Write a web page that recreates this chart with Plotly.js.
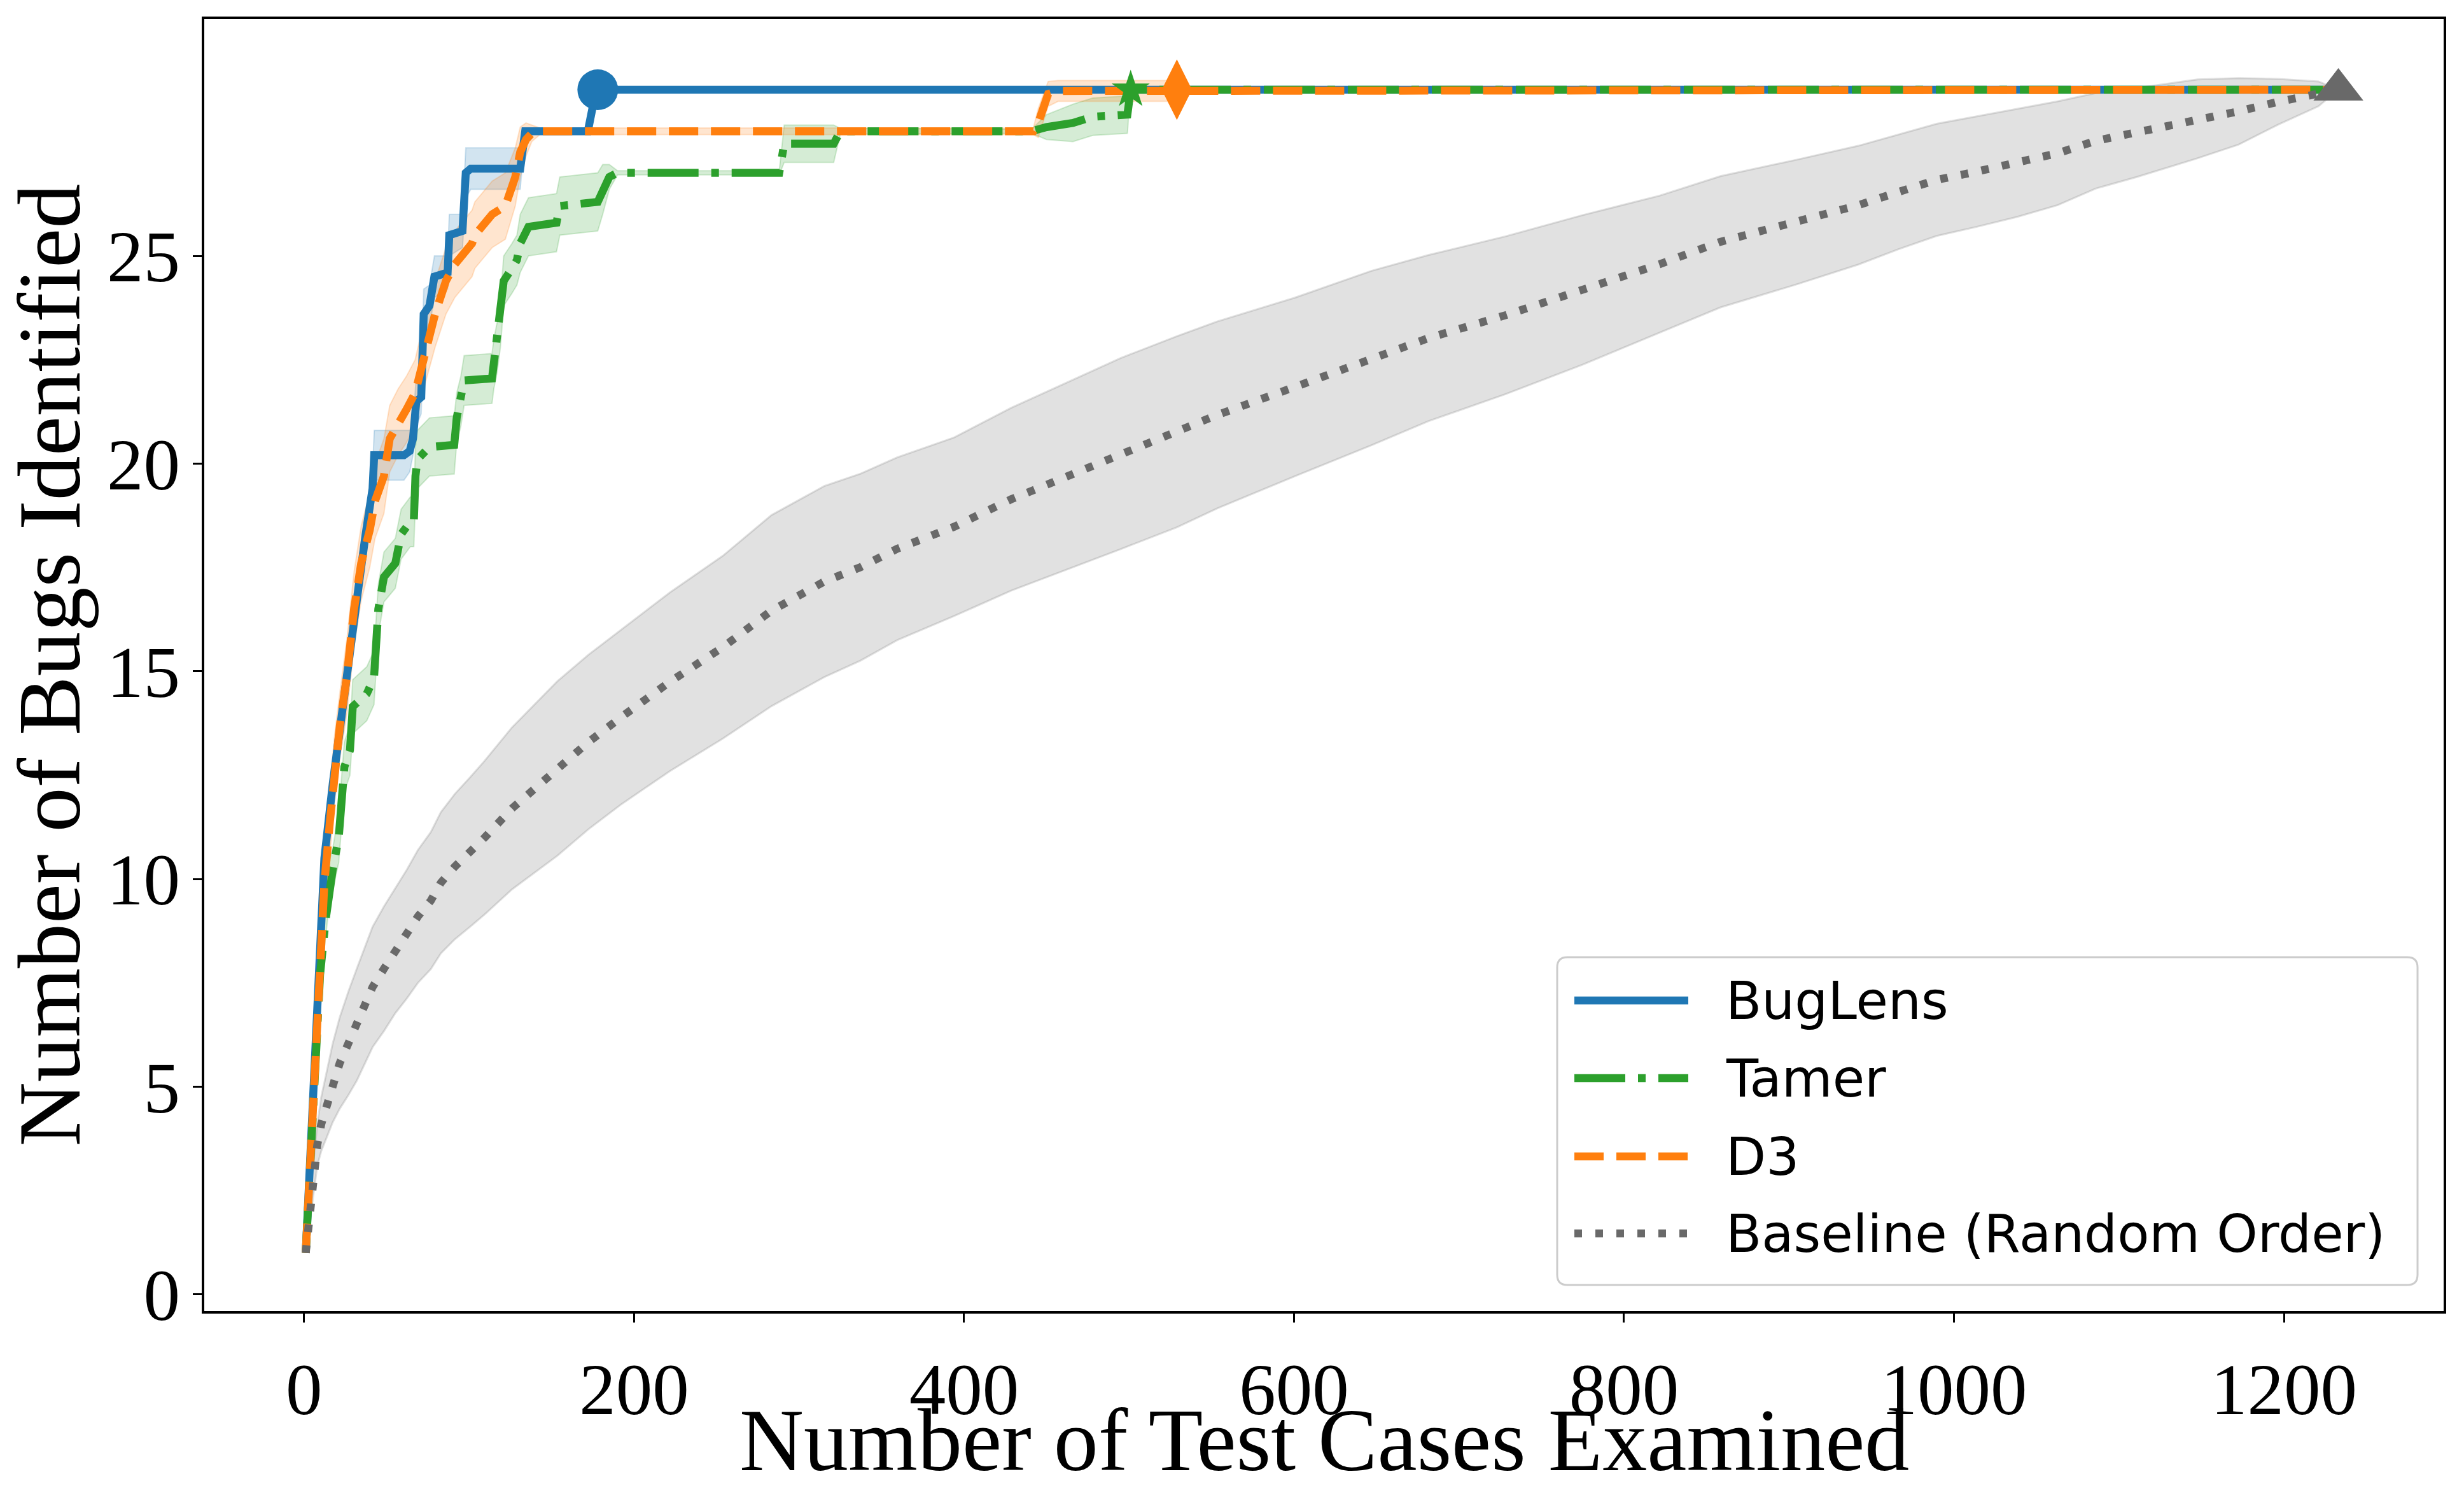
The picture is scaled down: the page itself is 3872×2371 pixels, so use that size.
<!DOCTYPE html>
<html>
<head>
<meta charset="utf-8">
<script src="https://cdn.plot.ly/plotly-3.0.1.min.js"></script>
<style>html,body{margin:0;padding:0;background:#fff;} #chart{width:3872px;height:2371px;}</style>
</head>
<body>
<div id="chart"></div>
<script>
// ---------------- data ----------------
const xTickVals = [0, 200, 400, 600, 800, 1000, 1200];
const yTickVals = [0, 5, 10, 15, 20, 25];
const seriesNames = ['BugLens', 'Tamer', 'D3', 'Baseline (Random Order)'];
const xTitle = 'Number of Test Cases Examined';
const yTitle = 'Number of Bugs Identified';

const bugLensX    = [1, 3, 5.4, 9.7, 12.3, 17.4, 22.6, 27.8, 32.9, 37.3, 41.5, 42.5, 60.5, 64, 66, 68, 71, 72.5, 76, 79, 87, 88, 96, 98, 101, 131, 134, 172, 177, 1233];
const bugLensMean = [1, 2.6, 5.0, 8.1, 10.5, 12.3, 13.8, 15.2, 17.0, 18.3, 19.4, 20.2, 20.2, 20.3, 20.6, 21.5, 21.6, 23.6, 23.8, 24.5, 24.6, 25.5, 25.6, 27.0, 27.1, 27.1, 28.0, 28.0, 29.0, 29.0];
const bugLensStd  = [0, 0.1, 0.2, 0.3, 0.4, 0.4, 0.3, 0.3, 0.3, 0.3, 0.4, 0.6, 0.6, 0.5, 0.4, 0.6, 0.4, 0.6, 0.5, 0.5, 0.4, 0.5, 0.4, 0.6, 0.5, 0.5, 0.05, 0, 0, 0];

const tamerX    = [1, 3, 5.4, 9.7, 13, 15.7, 17.4, 21, 22.6, 24.4, 27.8, 29.5, 38, 42.4, 45, 46.7, 48.4, 55.3, 58.8, 64.4, 66.5, 67.5, 68.7, 76, 91, 92.5, 95, 97, 113.9, 115, 117, 119, 121, 126, 129, 131, 136, 153, 155, 178, 181, 185, 190, 288, 291, 321, 325, 441, 450, 466, 478, 499, 501, 1233];
const tamerMean = [1, 2.5, 4.8, 7.7, 9.0, 10.0, 10.24, 11.0, 11.8, 12.7, 13.1, 14.15, 14.46, 14.85, 16.5, 16.88, 17.27, 17.6, 18.3, 18.6, 18.6, 19.7, 20.1, 20.4, 20.45, 21.1, 21.5, 22.0, 22.05, 22.4, 22.8, 23.4, 24.4, 24.7, 24.9, 25.3, 25.7, 25.8, 26.2, 26.3, 26.6, 26.9, 27.0, 27.0, 27.7, 27.7, 28.0, 28.0, 28.1, 28.2, 28.35, 28.4, 29.0, 29.0];
const tamerStd  = [0, 0.1, 0.2, 0.3, 0.4, 0.5, 0.5, 0.6, 0.6, 0.6, 0.6, 0.65, 0.65, 0.65, 0.6, 0.6, 0.6, 0.6, 0.6, 0.6, 0.6, 0.7, 0.7, 0.7, 0.7, 0.6, 0.6, 0.6, 0.6, 0.6, 0.6, 0.6, 0.6, 0.6, 0.6, 0.7, 0.7, 0.7, 0.7, 0.7, 0.6, 0.3, 0.05, 0.05, 0.45, 0.45, 0.07, 0.05, 0.3, 0.45, 0.45, 0.45, 0, 0];

const d3X    = [1, 3, 5.4, 9.7, 12.3, 15.7, 18.3, 21.7, 26, 30.3, 34.6, 39.8, 43, 48.4, 51.9, 57, 62, 67.3, 72.5, 79.4, 86, 91.4, 101.8, 103.5, 114, 122, 128, 131, 134.5, 138, 143, 442, 445, 451, 457, 528, 530, 1233];
const d3Mean = [1, 2.7, 5.0, 8.0, 9.9, 11.4, 12.6, 13.7, 14.9, 16.5, 17.6, 18.4, 19.1, 19.7, 20.6, 21.0, 21.3, 21.7, 22.6, 23.6, 24.4, 24.8, 25.3, 25.5, 26.0, 26.2, 26.9, 27.5, 27.8, 27.95, 28.0, 28.0, 28.2, 28.9, 28.97, 28.97, 29.0, 29.0];
const d3Std  = [0, 0.1, 0.3, 0.5, 0.6, 0.8, 0.8, 0.8, 0.9, 0.9, 0.9, 0.9, 0.9, 0.9, 0.8, 0.8, 0.8, 0.8, 0.8, 0.8, 0.8, 0.8, 0.8, 0.8, 0.8, 0.8, 0.7, 0.6, 0.4, 0.2, 0.08, 0.08, 0.35, 0.3, 0.25, 0.25, 0, 0];

const baselineX    = [1, 3.7, 8, 10.4, 13.9, 17.4, 21.6, 26.9, 32, 41.5, 48.4, 55.3, 62.2, 69, 76.8, 82.9, 91.4, 100.9, 109.5, 126, 153.5, 172.4, 192.3, 221.8, 253.8, 283.3, 315.3, 337.4, 359.5, 394, 428.5, 460.4, 494.9, 529.2, 553.4, 600.2, 646.9, 681.4, 728.1, 774.8, 821.6, 858.5, 905.2, 942, 966.4, 989.5, 1013.9, 1038.4, 1062.8, 1085.9, 1111, 1147.7, 1172.6, 1196.5, 1220.9, 1233];
const baselineMean = [1.0, 2.1, 3.6, 4.1, 4.6, 5.1, 5.57, 6.05, 6.5, 7.4, 7.84, 8.27, 8.67, 9.1, 9.48, 9.91, 10.3, 10.66, 11.0, 11.7, 12.66, 13.3, 13.9, 14.75, 15.58, 16.46, 17.16, 17.51, 17.95, 18.48, 19.14, 19.67, 20.24, 20.77, 21.17, 21.84, 22.54, 23.02, 23.57, 24.18, 24.8, 25.34, 25.82, 26.22, 26.54, 26.83, 27.03, 27.24, 27.47, 27.77, 27.97, 28.3, 28.48, 28.71, 28.9, 29.0];
const baselineStd  = [0, 0.3, 0.5, 0.65, 0.8, 0.95, 1.1, 1.25, 1.35, 1.45, 1.5, 1.5, 1.55, 1.6, 1.65, 1.7, 1.75, 1.8, 1.85, 1.95, 2.1, 2.1, 2.1, 2.15, 2.2, 2.3, 2.3, 2.25, 2.2, 2.15, 2.2, 2.25, 2.3, 2.3, 2.25, 2.15, 2.1, 2.0, 1.9, 1.8, 1.65, 1.58, 1.5, 1.43, 1.38, 1.35, 1.33, 1.3, 1.25, 1.15, 1.07, 0.95, 0.8, 0.55, 0.3, 0.0];

// points where each method first finds all bugs
const doneX = [178, 501, 529, 1233];
const doneY = [29, 29, 29, 29];

// ---------------- styling ----------------
const colors = ['#1f77b4', '#2ca02c', '#ff7f0e', '#696969'];
const bandColors = ['rgba(31,119,180,0.2)', 'rgba(44,160,44,0.2)', 'rgba(255,127,14,0.2)', 'rgba(105,105,105,0.2)'];
const dashes = ['solid', '80px,20px,12px,20px', '46px,20px', '12px,21px'];
const symbols = ['circle', 'star', 'diamond-tall', 'triangle-up'];
const symbolSizes = [64, 45, 68, 68];
const LW = 12.5;

const seriesX = [bugLensX, tamerX, d3X, baselineX];
const seriesMean = [bugLensMean, tamerMean, d3Mean, baselineMean];
const seriesStd = [bugLensStd, tamerStd, d3Std, baselineStd];

const traces = [];
// shaded bands (drawn beneath all lines)
for (let k = 0; k < 4; k++) {
  const x = seriesX[k], m = seriesMean[k], s = seriesStd[k];
  const up = m.map((v, i) => v + s[i]);
  const lo = m.map((v, i) => v - s[i]);
  traces.push({
    type: 'scatter', mode: 'lines',
    x: x.concat(x.slice().reverse()),
    y: up.concat(lo.slice().reverse()),
    fill: 'toself', fillcolor: bandColors[k],
    line: {color: bandColors[k], width: k === 3 ? 3 : 2},
    hoverinfo: 'skip', showlegend: false
  });
}
// mean lines
for (let k = 0; k < 4; k++) {
  traces.push({
    type: 'scatter', mode: 'lines', name: seriesNames[k],
    x: seriesX[k], y: seriesMean[k],
    line: {color: colors[k], width: LW, dash: dashes[k]},
    showlegend: false
  });
}
// end markers
for (let k = 0; k < 4; k++) {
  traces.push({
    type: 'scatter', mode: 'markers',
    x: [doneX[k]], y: [doneY[k]],
    marker: {symbol: symbols[k], size: symbolSizes[k], color: colors[k], line: {width: 0}},
    showlegend: false
  });
}

// ---------------- layout ----------------
const W = 3872, H = 2371;
const M = {l: 321, r: 32, t: 30, b: 311};
const PW = W - M.l - M.r, PH = H - M.t - M.b;
const px = v => (v - M.l) / PW;
const py = v => (H - M.b - v) / PH;

const serif = 'Liberation Serif, Times New Roman, serif';
const sans = 'DejaVu Sans, sans-serif';

// custom legend (matplotlib-like, lower right)
const lg = {x0: 2447, x1: 3799, y0: 1504, y1: 2019, r: 16};
const rows = [1572, 1694, 1817, 1938];
const sample = {x0: 2474, x1: 2653};
const textX = 2710;

const rx = lg.r / PW, ry = lg.r / PH;
const X0 = px(lg.x0), X1 = px(lg.x1), Yt = py(lg.y0), Yb = py(lg.y1);
const boxPath = `M${X0 + rx},${Yb} L${X1 - rx},${Yb} Q${X1},${Yb} ${X1},${Yb + ry} L${X1},${Yt - ry} Q${X1},${Yt} ${X1 - rx},${Yt} L${X0 + rx},${Yt} Q${X0},${Yt} ${X0},${Yt - ry} L${X0},${Yb + ry} Q${X0},${Yb} ${X0 + rx},${Yb} Z`;

const shapes = [{
  type: 'path', xref: 'paper', yref: 'paper', path: boxPath,
  fillcolor: 'rgba(255,255,255,0.85)', line: {color: '#cccccc', width: 3}, layer: 'above'
}];
const annotations = [];
for (let k = 0; k < 4; k++) {
  shapes.push({
    type: 'line', xref: 'paper', yref: 'paper', layer: 'above',
    x0: px(sample.x0), x1: px(sample.x1), y0: py(rows[k]), y1: py(rows[k]),
    line: {color: colors[k], width: LW, dash: dashes[k]}
  });
  annotations.push({
    xref: 'paper', yref: 'paper', x: px(textX), y: py(rows[k]),
    xanchor: 'left', yanchor: 'middle', showarrow: false,
    text: seriesNames[k], font: {family: sans, size: 82, color: '#000'}
  });
}
// x-axis title placed like the reference
annotations.push({
  xref: 'paper', yref: 'paper', x: 0.5, y: py(2262),
  xanchor: 'center', yanchor: 'middle', showarrow: false,
  text: xTitle, font: {family: serif, size: 140, color: '#000'}
});

const layout = {
  width: W, height: H,
  margin: M,
  paper_bgcolor: '#fff', plot_bgcolor: '#fff',
  showlegend: false,
  xaxis: {
    range: [-60.5, 1296.8], tickvals: xTickVals, ticktext: xTickVals.map(String),
    ticks: 'outside', ticklen: 14, tickwidth: 3, tickcolor: '#000',
    showline: true, linewidth: 4, linecolor: '#000', mirror: true,
    showgrid: false, zeroline: false, automargin: false,
    tickfont: {family: serif, size: 115, color: '#000'},
    ticklabelstandoff: 6
  },
  yaxis: {
    range: [-0.4, 30.7], tickvals: yTickVals, ticktext: yTickVals.map(String),
    ticks: 'outside', ticklen: 14, tickwidth: 3, tickcolor: '#000',
    showline: true, linewidth: 4, linecolor: '#000', mirror: true,
    showgrid: false, zeroline: false, automargin: false,
    tickfont: {family: serif, size: 115, color: '#000'},
    ticklabelstandoff: -3,
    title: {text: yTitle, font: {family: serif, size: 140, color: '#000'}}
  },
  shapes: shapes,
  annotations: annotations
};

Plotly.newPlot('chart', traces, layout, {staticPlot: true, displayModeBar: false});
</script>
</body>
</html>
